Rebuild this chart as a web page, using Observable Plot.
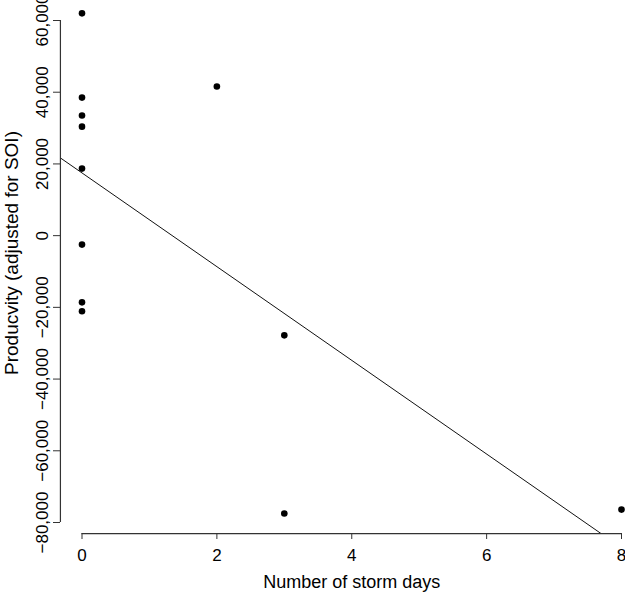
<!DOCTYPE html>
<html><head><meta charset="utf-8">
<script src="https://cdn.jsdelivr.net/npm/d3@7"></script>
<script src="https://cdn.jsdelivr.net/npm/@observablehq/plot@0.6"></script>
<style>body{margin:0;background:#fff} svg{display:block}</style>
</head><body><div id="chart"></div>
<script>
const stormDays = [0, 0, 0, 0, 0, 0, 0, 0, 2, 3, 3, 8];
const productivity = [62000, 38500, 33500, 30400, 18700, -2500, -18600, -21100, 41600, -27800, -77500, -76400];
const xTicks = [0, 2, 4, 6, 8];
const yTicks = [-80000, -60000, -40000, -20000, 0, 20000, 40000, 60000];
const xTitle = "Number of storm days";
const yTitle = "Producvity (adjusted for SOI)";

const data = stormDays.map((x, i) => ({x, y: productivity[i]}));
// least-squares fit (abline of lm)
const mx = d3.mean(stormDays), my = d3.mean(productivity);
const slope = d3.sum(data, d => (d.x - mx) * (d.y - my)) / d3.sum(data, d => (d.x - mx) ** 2);
const intercept = my - slope * mx;
// R-style 4% padded plotting region
const [x0, x1] = d3.extent(stormDays), [y0, y1] = d3.extent(productivity);
const xLeft = x0 - 0.04 * (x1 - x0), xRight = x1 + 0.04 * (x1 - x0);
const yLow = y0 - 0.04 * (y1 - y0);
const fit = [xLeft, xRight].map(x => ({x, y: intercept + slope * x}));
const fmt = d3.format(",");
const font = "'Liberation Sans', Arial, Helvetica, sans-serif";

const chart = Plot.plot({
  width: 625, height: 592,
  marginLeft: 60, marginRight: 0, marginTop: 0, marginBottom: 59,
  x: {domain: [xTicks[0], xTicks.at(-1)], range: [81.5, 621]},
  y: {domain: [yTicks[0], yTicks.at(-1)], range: [522, 20]},
  style: {fontFamily: font, background: "white", color: "black"},
  marks: [
    Plot.line(fit, {x: "x", y: "y", stroke: "#111", strokeWidth: 1, clip: true}),
    Plot.dot(data, {x: "x", y: "y", r: 3.3, fill: "black", stroke: "none"}),
    Plot.ruleY([yLow], {x1: xTicks[0], x2: xTicks.at(-1), stroke: "#333", strokeWidth: 1.2}),
    Plot.ruleX([xLeft], {y1: yTicks[0], y2: yTicks.at(-1), stroke: "#333", strokeWidth: 1.2}),
    Plot.axisX(xTicks, {anchor: "bottom", tickSize: 6, tickPadding: 9, fontSize: 17, label: null, stroke: "#333"}),
    Plot.axisY(yTicks, {anchor: "left", tickSize: 7, tickPadding: 6, tickRotate: -90, tickFormat: fmt, fontSize: 17, label: null, stroke: "#333"}),
    Plot.text([xTitle], {x: () => (xTicks[0] + xTicks.at(-1)) / 2, frameAnchor: "bottom", dy: 54, fontSize: 18, lineAnchor: "bottom"}),
    Plot.text([yTitle], {frameAnchor: "left", rotate: -90, dx: -43, dy: -14, fontSize: 19, lineAnchor: "bottom", textAnchor: "middle"})
  ]
});
document.getElementById("chart").append(chart);
</script>
</body></html>
